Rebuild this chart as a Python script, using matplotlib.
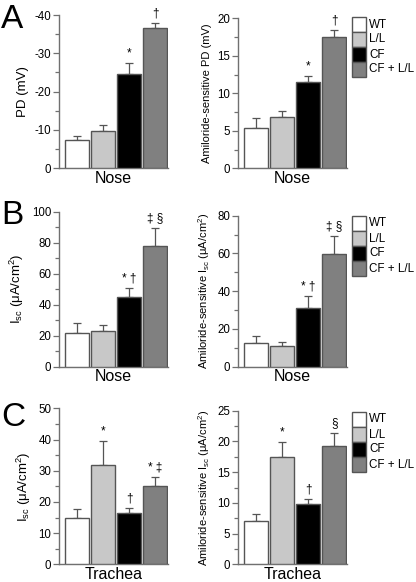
import matplotlib
matplotlib.use("Agg")
import matplotlib.pyplot as plt
from matplotlib.patches import Rectangle

plt.rcParams['font.family'] = ['Liberation Sans', 'DejaVu Sans']
plt.rcParams['mathtext.fontset'] = 'custom'
plt.rcParams['mathtext.rm'] = 'Liberation Sans'
plt.rcParams['mathtext.it'] = 'Liberation Sans:italic'
plt.rcParams['mathtext.bf'] = 'Liberation Sans:bold'

groups = ["WT", "L/L", "CF", "CF + L/L"]
colors = ["#ffffff", "#c8c8c8", "#000000", "#808080"]

# Panel A (nose PD, plotted as magnitude; axis labelled negative)
pd_nose = [7.4, 9.8, 24.7, 36.5]
pd_nose_err = [1.0, 1.4, 2.9, 1.4]
pd_nose_sig = ["", "", "*", "†"]
amil_pd_nose = [5.4, 6.9, 11.5, 17.5]
amil_pd_nose_err = [1.3, 0.7, 0.8, 1.0]
amil_pd_nose_sig = ["", "", "*", "†"]

# Panel B (nose Isc)
isc_nose = [21.5, 23.0, 45.0, 77.8]
isc_nose_err = [6.5, 4.0, 6.0, 12.0]
isc_nose_sig = ["", "", "*†", "‡§"]
amil_isc_nose = [12.4, 11.0, 30.9, 59.7]
amil_isc_nose_err = [3.9, 1.9, 6.6, 9.6]
amil_isc_nose_sig = ["", "", "*†", "‡§"]

# Panel C (trachea Isc)
isc_trachea = [14.7, 31.7, 16.5, 25.1]
isc_trachea_err = [2.9, 7.7, 1.7, 2.9]
isc_trachea_sig = ["", "*", "†", "*‡"]
amil_isc_trachea = [7.05, 17.5, 9.8, 19.3]
amil_isc_trachea_err = [1.15, 2.4, 0.8, 2.1]
amil_isc_trachea_sig = ["", "*", "†", "§"]

W, H = 416, 582
fig = plt.figure(figsize=(W / 100, H / 100), dpi=100)

def fr(x0, ytop, x1, ybot):
    return [x0 / W, (H - ybot) / H, (x1 - x0) / W, (ybot - ytop) / H]

SP = "#707070"

def panel(rect, vals, errs, sigs, ymax, major, minor, ylabel, xlabel,
          neg=False, ylab_size=8, sig_size=8.5):
    ax = fig.add_axes(rect)
    x = list(range(len(vals)))
    ax.bar(x, vals, width=0.92, color=colors, edgecolor="#555555",
           linewidth=1.0, zorder=3)
    ax.errorbar(x, vals, yerr=[[0] * len(vals), errs], fmt="none",
                ecolor="#555555", elinewidth=0.9, capsize=2.6,
                capthick=0.9, zorder=2)
    for xi, v, e, s in zip(x, vals, errs, sigs):
        if s:
            ax.annotate(" ".join(list(s)), (xi, v + e), xytext=(0, 2.5),
                        textcoords="offset points", ha="center", va="bottom",
                        fontsize=sig_size)
    ax.set_xlim(-0.68, 3.48)
    ax.set_ylim(0, ymax)
    ticks = [i * major for i in range(int(round(ymax / major)) + 1)]
    ax.set_yticks(ticks)
    if neg:
        ax.set_yticklabels(["0"] + ["-%g" % t for t in ticks[1:]])
    else:
        ax.set_yticklabels(["%g" % t for t in ticks])
    mticks = [i * minor for i in range(int(round(ymax / minor)) + 1)]
    ax.set_yticks(mticks, minor=True)
    ax.set_xticks([])
    for s in ["top", "right"]:
        ax.spines[s].set_visible(False)
    for s in ["left", "bottom"]:
        ax.spines[s].set_color(SP)
        ax.spines[s].set_linewidth(1.0)
    ax.tick_params(axis="y", which="major", length=4, width=0.9, color=SP,
                   labelsize=8.3, pad=1.5)
    ax.tick_params(axis="y", which="minor", length=3, width=0.9, color=SP)
    ax.set_ylabel(ylabel, fontsize=ylab_size, labelpad=4)
    ax.set_xlabel(xlabel, fontsize=11.5, labelpad=2)
    return ax

def legend(x0, ytop):
    bh = 15.0
    bw = 14.0
    for i, (g, c) in enumerate(zip(groups, colors)):
        y = ytop + i * bh
        fig.add_artist(Rectangle((x0 / W, (H - y - bh) / H), bw / W, bh / H,
                                 facecolor=c, edgecolor="#555555",
                                 linewidth=1.0, transform=fig.transFigure))
        fig.text((x0 + bw + 3) / W, (H - y - bh / 2) / H, g, fontsize=8.4,
                 va="center", ha="left")

isc_lab = r"I$_{\rm sc}$ (μA/cm$^{2}$)"
amil_isc_lab = r"Amiloride-sensitive I$_{\rm sc}$ (μA/cm$^{2}$)"

panel(fr(59, 15, 168, 168.3), pd_nose, pd_nose_err, pd_nose_sig, 40, 10, 5,
      "PD (mV)", "Nose", neg=True, ylab_size=9.5)
panel(fr(238, 18.3, 347, 168.3), amil_pd_nose, amil_pd_nose_err,
      amil_pd_nose_sig, 20, 5, 2.5, "Amiloride-sensitive PD (mV)", "Nose",
      ylab_size=8)
legend(352, 17)

panel(fr(59, 211.7, 168, 366.7), isc_nose, isc_nose_err, isc_nose_sig, 100,
      20, 10, isc_lab, "Nose", ylab_size=9.5)
panel(fr(238, 215.7, 347, 366.7), amil_isc_nose, amil_isc_nose_err,
      amil_isc_nose_sig, 80, 20, 10, amil_isc_lab, "Nose", ylab_size=8)
legend(352, 216)

panel(fr(59, 408.3, 168, 564.3), isc_trachea, isc_trachea_err,
      isc_trachea_sig, 50, 10, 5, isc_lab, "Trachea", ylab_size=9.5)
panel(fr(238, 410.7, 347, 564.3), amil_isc_trachea, amil_isc_trachea_err,
      amil_isc_trachea_sig, 25, 5, 2.5, amil_isc_lab, "Trachea",
      ylab_size=8)
legend(352, 412)

for letter, y in [("A", 28), ("B", 224), ("C", 426)]:
    fig.text(1 / W, (H - y) / H, letter, fontsize=24, va="baseline",
             ha="left")

fig.savefig("out.png", dpi=100)
